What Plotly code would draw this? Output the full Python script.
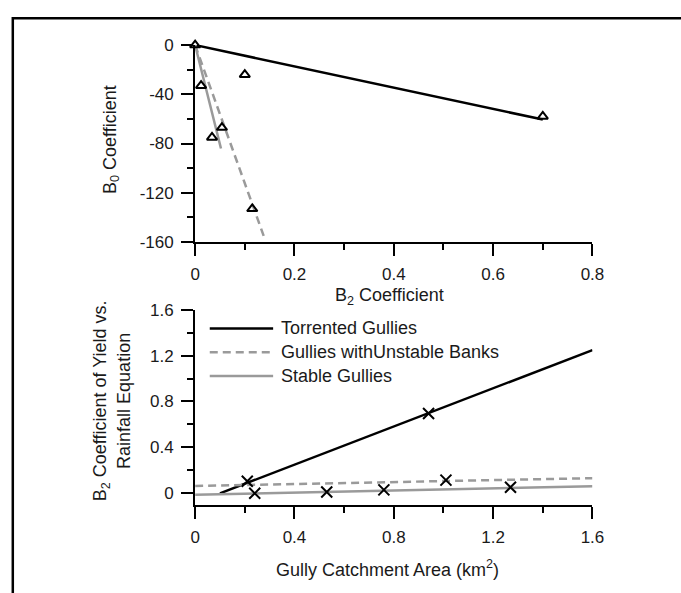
import plotly.graph_objects as go

# ---- data -----------------------------------------------------------------
# Upper panel: B0 vs B2 coefficients of the yield-rainfall equation
b2_coef = [0.0, 0.012, 0.100, 0.034, 0.054, 0.115, 0.700]
b0_coef = [0.0, -33, -24, -75, -67, -133, -58]

# fitted lines (upper panel)
torr_b2 = [0.0, 0.700]
torr_b0 = [0.0, -60.5]
unst_b2 = [0.0, 0.138]
unst_b0 = [0.0, -155.0]
stab_b2 = [0.0, 0.052]
stab_b0 = [0.0, -84.0]

# Lower panel: B2 coefficient vs gully catchment area
area_km2 = [0.21, 0.24, 0.53, 0.76, 0.94, 1.01, 1.27]
b2_area = [0.105, 0.0, 0.011, 0.030, 0.696, 0.115, 0.053]

# fitted lines (lower panel)
torr_area = [0.10, 1.60]
torr_b2fit = [0.0, 1.248]
unst_area = [0.0, 1.60]
unst_b2fit = [0.064, 0.132]
stab_area = [0.0, 1.60]
stab_b2fit = [-0.012, 0.062]

# tick labels
b0_ticks = [0, -40, -80, -120, -160]
b0_ticktext = ["0", "-40", "-80", "-120", "-160"]

legend_names = ["Torrented Gullies", "Gullies withUnstable Banks", "Stable Gullies"]

# ---- layout helpers ---------------------------------------------------------
W, H = 681, 593
FONT = "Arial, Liberation Sans, sans-serif"
GREY = "#9a9a9a"


def px_x(px):
    return px / W


def px_y(py):
    return 1 - py / H


fig = go.Figure()

# upper panel fits
fig.add_trace(go.Scatter(x=torr_b2, y=torr_b0, mode="lines",
                         line=dict(color="black", width=2.5),
                         xaxis="x", yaxis="y", showlegend=False, cliponaxis=False))
fig.add_trace(go.Scatter(x=unst_b2, y=unst_b0, mode="lines",
                         line=dict(color=GREY, width=2.5, dash="8px,5px"),
                         xaxis="x", yaxis="y", showlegend=False, cliponaxis=False))
fig.add_trace(go.Scatter(x=stab_b2, y=stab_b0, mode="lines",
                         line=dict(color=GREY, width=2.5),
                         xaxis="x", yaxis="y", showlegend=False, cliponaxis=False))
fig.add_trace(go.Scatter(x=b2_coef, y=b0_coef, mode="markers",
                         marker=dict(symbol="triangle-up-open", size=9, color="black",
                                     line=dict(color="black", width=2)),
                         xaxis="x", yaxis="y", showlegend=False, cliponaxis=False))

# lower panel fits
fig.add_trace(go.Scatter(x=torr_area, y=torr_b2fit, mode="lines",
                         line=dict(color="black", width=2.5),
                         xaxis="x2", yaxis="y2", showlegend=False, cliponaxis=False))
fig.add_trace(go.Scatter(x=unst_area, y=unst_b2fit, mode="lines",
                         line=dict(color=GREY, width=2.5, dash="8px,5px"),
                         xaxis="x2", yaxis="y2", showlegend=False, cliponaxis=False))
fig.add_trace(go.Scatter(x=stab_area, y=stab_b2fit, mode="lines",
                         line=dict(color=GREY, width=2.5),
                         xaxis="x2", yaxis="y2", showlegend=False, cliponaxis=False))
fig.add_trace(go.Scatter(x=area_km2, y=b2_area, mode="markers",
                         marker=dict(symbol="x-thin-open", size=11, color="black",
                                     line=dict(color="black", width=2)),
                         xaxis="x2", yaxis="y2", showlegend=False, cliponaxis=False))

tickfont = dict(family=FONT, size=17, color="#1a1a1a")


def axis_style(rng, dtick, minor_dtick, domain, anchor):
    return dict(range=rng, dtick=dtick, tick0=0, domain=domain, anchor=anchor,
                showline=True, linecolor="black", linewidth=2,
                ticks="outside", ticklen=12, tickwidth=2, tickcolor="black",
                minor=dict(ticks="outside", ticklen=6, tickwidth=2,
                           tickcolor="black", dtick=minor_dtick),
                showgrid=False, zeroline=False, tickfont=tickfont,
                ticklabelstandoff=4, fixedrange=True)


xdom = [px_x(195), px_x(602.5)]
fig.update_layout(
    width=W, height=H, autosize=False,
    margin=dict(l=0, r=0, t=0, b=0),
    paper_bgcolor="white", plot_bgcolor="white",
    showlegend=False,
    xaxis=axis_style([0, 0.8], 0.2, 0.1, xdom, "y"),
    yaxis=axis_style([-160, 0], 40, 20, [px_y(240.7), px_y(37.3)], "x"),
    xaxis2=axis_style([0, 1.6], 0.4, 0.2, xdom, "y2"),
    yaxis2=axis_style([-0.1, 1.6], 0.4, 0.2, [px_y(512.2), px_y(310.6)], "x2"),
)
fig.layout.xaxis.tickformat = "~g"
fig.layout.xaxis2.tickformat = "~g"
fig.layout.yaxis2.tickformat = "~g"
fig.layout.yaxis.tickmode = "array"
fig.layout.yaxis.tickvals = b0_ticks
fig.layout.yaxis.ticktext = b0_ticktext

titlefont = dict(family=FONT, size=18, color="#1a1a1a")
annotations = [
    dict(text="B<sub>2</sub> Coefficient", x=px_x(394), y=px_y(297),
         xref="paper", yref="paper", showarrow=False, font=titlefont,
         xanchor="center", yanchor="middle"),
    dict(text="B<sub>0</sub> Coefficient", x=px_x(109), y=px_y(135),
         xref="paper", yref="paper", showarrow=False, font=titlefont,
         textangle=-90, xanchor="center", yanchor="middle"),
    dict(text="Gully Catchment Area (km<sup>2</sup>)", x=px_x(392), y=px_y(578),
         xref="paper", yref="paper", showarrow=False, font=titlefont,
         xanchor="center", yanchor="middle"),
    dict(text="B<sub>2</sub> Coefficient of Yield vs.<br>Rainfall Equation",
         x=px_x(109), y=px_y(405), xref="paper", yref="paper", showarrow=False,
         font=titlefont, textangle=-90, xanchor="center", yanchor="middle"),
]

# legend drawn as line samples plus labels
shapes = []
legend_styles = [dict(color="black", width=2.5, dash="solid"),
                 dict(color=GREY, width=2.5, dash="8px,5px"),
                 dict(color=GREY, width=2.5, dash="solid")]
for i, (name, st) in enumerate(zip(legend_names, legend_styles)):
    ypx = 330 + i * 24.6
    shapes.append(dict(type="line", xref="paper", yref="paper",
                       x0=px_x(210), x1=px_x(275), y0=px_y(ypx), y1=px_y(ypx),
                       line=st))
    annotations.append(dict(text=name, x=px_x(281), y=px_y(ypx), xref="paper",
                            yref="paper", showarrow=False, font=titlefont,
                            xanchor="left", yanchor="middle"))

# outer frame
shapes.append(dict(type="rect", xref="paper", yref="paper",
                   x0=px_x(8), x1=1.2, y0=-0.2, y1=px_y(9.5),
                   line=dict(color="black", width=2.5)))

fig.update_layout(annotations=annotations, shapes=shapes)
fig.write_html("out.html")
